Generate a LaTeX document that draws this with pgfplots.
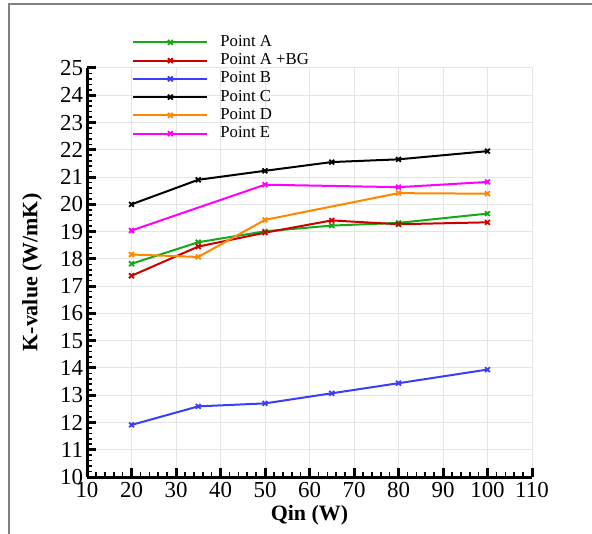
\documentclass[border=0pt]{standalone}
\usepackage{fontspec}
\setmainfont{Liberation Serif}
\usepackage{pgfplots}
\pgfplotsset{compat=1.18}
\definecolor{cA}{RGB}{20,170,20}
\definecolor{cAbg}{RGB}{205,0,0}
\definecolor{cB}{RGB}{60,60,255}
\definecolor{cD}{RGB}{255,135,0}
\definecolor{cE}{RGB}{255,0,255}
\definecolor{frame}{RGB}{128,128,128}
\definecolor{gridc}{RGB}{228,228,228}

\begin{document}
\begin{tikzpicture}
\useasboundingbox (-43.5bp,-28.5bp) rectangle (252.5bp,238.5bp);
\draw[frame, line width=0.8bp] (-39bp,-28.5bp) -- (-39bp,236.5bp) -- (252.5bp,236.5bp);
\begin{axis}[
    at={(0,0)}, anchor=south west,
    scale only axis,
    width=222.5bp, height=204.5bp,
    xmin=10, xmax=110, ymin=10, ymax=25,
    xtick={10,20,...,110}, ytick={10,11,...,25},
    minor x tick num=4, minor y tick num=4,
    axis x line*=bottom, axis y line*=left,
    axis line style={line width=1.5bp, -},
    tick align=inside,
    major tick length=4.5bp, minor tick length=2.5bp,
    major tick style={line width=1.5bp, black},
    minor tick style={line width=0.8bp, black},
    grid=major,
    major grid style={gridc, line width=0.5bp},
    /pgf/number format/assume math mode=true,
    ticklabel style={font=\fontsize{11.5}{13}\selectfont},
    yticklabel style={xshift=1.5bp},
    xticklabel style={yshift=1bp},
    xlabel={\textbf{Qin (W)}},
    ylabel={\textbf{K-value (W/mK)}},
    label style={font=\fontsize{11}{13}\selectfont},
    xlabel style={at={(axis description cs:0.5,-0.093)}, anchor=center},
    ylabel style={at={(axis description cs:-0.1236,0.5)}, anchor=center},
    legend style={at={(19.5bp,225bp)}, anchor=north west, draw=none, fill=none,
                  font=\fontsize{8.4}{9}\selectfont, row sep=-1.9bp,
                  legend cell align=left},
    legend image code/.code={%
        \draw[mark repeat=2, mark phase=2, #1] plot coordinates {(0bp,0bp) (18.5bp,0bp) (37bp,0bp)};
        \path (41bp,0bp);},
    every axis plot/.append style={line width=1bp, mark=x, mark size=1.7bp,
                                   mark options={line width=0.9bp}},
    clip=false,
]
\addplot[cA] coordinates {(20,17.82) (35,18.61) (50,19.01) (65,19.22) (80,19.32) (100,19.66)};
\addlegendentry{Point A}
\addplot[cAbg] coordinates {(20,17.38) (35,18.45) (50,18.96) (65,19.41) (80,19.27) (100,19.34)};
\addlegendentry{Point A +BG}
\addplot[cB] coordinates {(20,11.91) (35,12.59) (50,12.70) (65,13.07) (80,13.44) (100,13.94)};
\addlegendentry{Point B}
\addplot[black] coordinates {(20,20.00) (35,20.90) (50,21.23) (65,21.55) (80,21.65) (100,21.95)};
\addlegendentry{Point C}
\addplot[cD] coordinates {(20,18.16) (35,18.07) (50,19.43) (80,20.41) (100,20.39)};
\addlegendentry{Point D}
\addplot[cE] coordinates {(20,19.04) (50,20.72) (80,20.63) (100,20.82)};
\addlegendentry{Point E}
\end{axis}
\end{tikzpicture}
\end{document}
